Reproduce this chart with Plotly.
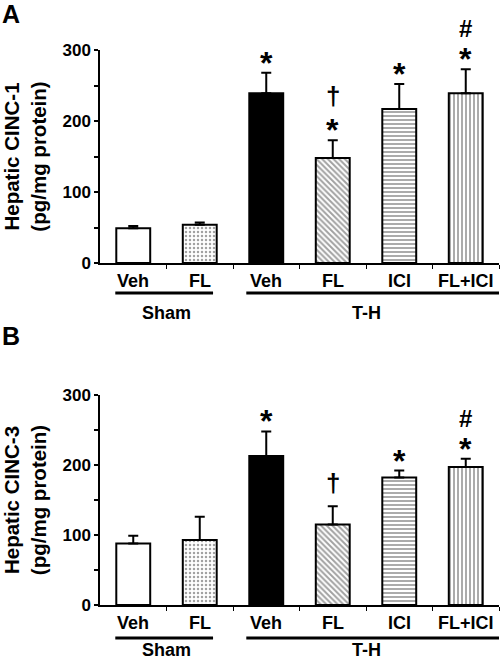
import plotly.graph_objects as go

categories = ["Veh", "FL", "Veh", "FL", "ICI", "FL+ICI"]
groups = ["Sham", "T-H"]
group_span = [(0, 1), (2, 5)]
cinc1_mean = [49, 54, 239, 148, 217, 239]
cinc1_sem = [3, 3, 29, 25, 35, 34]
cinc3_mean = [88, 93, 213, 115, 182, 197]
cinc3_sem = [11, 33, 35, 26, 10, 12]
cinc1_marks = [[], [], ["*"], ["*", "†"], ["*"], ["*", "#"]]
cinc3_marks = [[], [], ["*"], ["†"], ["*"], ["*", "#"]]
yticks = [0, 100, 200, 300]
ytitles = ["Hepatic CINC-1<br>(pg/mg protein)", "Hepatic CINC-3<br>(pg/mg protein)"]
panel_letters = ["A", "B"]

FONT = "Liberation Sans, Arial, sans-serif"
W, H = 500, 662
ML, MR = 100, 1
def py(px):
    return (H - px) / H
def pxp(px):
    return (px - ML) / (W - ML - MR)

fig = go.Figure()
x = list(range(len(categories)))
fills = ["white", "white", "black", "white", "white", "white"]
shapes_p = ["", ".", "", "\\", "-", "|"]
fgc = ["black", "#666", "black", "#333", "#333", "#111"]
sol = [0.3, 0.3, 0.3, 0.5, 0.45, 0.45]

panels = [
    dict(mean=cinc1_mean, sem=cinc1_sem, marks=cinc1_marks, ax="", dom=[py(263), py(50)],
         lab=281, line=293, grp=313, letter=14),
    dict(mean=cinc3_mean, sem=cinc3_sem, marks=cinc3_marks, ax="2", dom=[py(605), py(395)],
         lab=623, line=638, grp=None, letter=336),
]

# font size and vertical shift (px) for a symbol at stack position 0 / 1
mark_style = {"*": (32, (-10, -10)), "†": (26, (6, 27)), "#": (24, (1, 25))}

annotations = []
shapes = []
for i, p in enumerate(panels):
    fig.add_trace(go.Bar(
        x=x, y=p["mean"], width=0.51,
        marker=dict(color=fills, line=dict(color="black", width=2),
                    pattern=dict(shape=shapes_p, fgcolor=fgc, bgcolor=fills, size=4, solidity=sol)),
        error_y=dict(type="data", array=p["sem"], arrayminus=[0]*6, symmetric=False,
                     color="black", thickness=2, width=5),
        xaxis="x" + p["ax"], yaxis="y" + p["ax"], showlegend=False,
    ))
    xr = "x" + p["ax"]
    yr = "y" + p["ax"]
    for j, c in enumerate(categories):
        annotations.append(dict(x=j, y=py(p["lab"]), xref=xr, yref="paper", text=c,
                                showarrow=False, yanchor="middle",
                                font=dict(family=FONT, size=18, weight="bold", color="black")))
        top = p["mean"][j] + p["sem"][j]
        for k, m in enumerate(p["marks"][j]):
            size, offs = mark_style[m]
            annotations.append(dict(x=j, y=top, xref=xr, yref=yr, text=m, showarrow=False,
                                    yanchor="bottom", yshift=offs[k],
                                    font=dict(family=FONT, size=size, weight="bold", color="black")))
    for g, (a, b) in zip(groups, group_span):
        x0 = a - 0.27 if a == 0 else a - 0.3
        x1 = b + 0.2 if a == 0 else 5.5
        shapes.append(dict(type="line", xref=xr, yref="paper", x0=x0, x1=x1,
                           y0=py(p["line"]), y1=py(p["line"]), line=dict(color="black", width=3)))
        if p["grp"] is not None:
            annotations.append(dict(x=(a + b) / 2, y=py(p["grp"]), xref=xr, yref="paper", text=g,
                                    showarrow=False, yanchor="middle",
                                    font=dict(family=FONT, size=18, weight="bold", color="black")))
        else:
            annotations.append(dict(x=(a + b) / 2, y=0, xref=xr, yref="paper", text=g,
                                    showarrow=False, yanchor="bottom",
                                    font=dict(family=FONT, size=18, weight="bold", color="black")))
    annotations.append(dict(x=pxp(11), y=py(p["letter"]), xref="paper", yref="paper",
                            text=panel_letters[i], showarrow=False, xanchor="center", yanchor="middle",
                            font=dict(family=FONT, size=25, weight="bold", color="black")))

axis_font = dict(family=FONT, size=17, weight="bold", color="black")
common_x = dict(range=[-0.5, 5.5], showline=True, linecolor="black", linewidth=1.5,
                tickvals=[0.5, 1.5, 2.5, 3.5, 4.5, 5.5], ticks="outside", ticklen=4,
                tickcolor="black", showticklabels=False, showgrid=False, zeroline=False,
                fixedrange=True, automargin=False)
def yax(dom, title, anchor):
    return dict(domain=dom, range=[0, 300], showline=True, linecolor="black", linewidth=1.5,
                tickvals=yticks, ticks="outside", ticklen=4, tickcolor="black", tickwidth=1.5,
                minor=dict(ticks="outside", ticklen=4, dtick=50, tickcolor="black", tickwidth=1.5),
                tickfont=axis_font, showgrid=False, zeroline=False, anchor=anchor,
                automargin=False,
                title=dict(text=title, font=dict(family=FONT, size=20.5, weight="bold", color="black"),
                           standoff=12))

fig.update_layout(
    width=W, height=H, autosize=False, margin=dict(l=ML, r=MR, t=0, b=0),
    paper_bgcolor="white", plot_bgcolor="white",
    xaxis=dict(**common_x, anchor="y"),
    xaxis2=dict(**common_x, anchor="y2"),
    yaxis=yax(panels[0]["dom"], ytitles[0], "x"),
    yaxis2=yax(panels[1]["dom"], ytitles[1], "x2"),
    annotations=annotations, shapes=shapes, bargap=0.4,
)
fig.write_html("out.html", config={"displayModeBar": False},
               post_script="document.body.style.margin='0px';")
